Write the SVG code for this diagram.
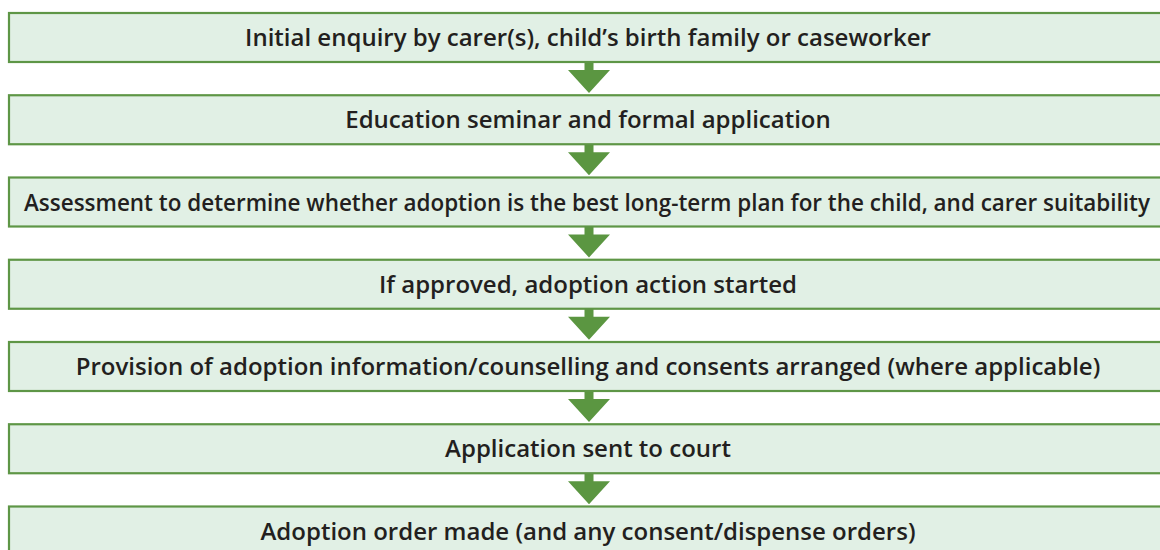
<svg xmlns="http://www.w3.org/2000/svg" width="1160" height="550" viewBox="0 0 1160 550">
<style>
.box{fill:#e1f0e5;stroke:#5e9646;stroke-width:2.2}
.lbl{font-family:"Open Sans","Noto Sans","Liberation Sans",sans-serif;font-size:24px;font-weight:600;fill:#231f20;text-anchor:middle}
.arr{fill:#5b9641}
</style>
<rect width="1160" height="550" fill="#ffffff"/>
<g id="connectors">
<path class="arr" d="M584.5 62 H593.5 V70 H610 L589 93 L568 70 H584.5 Z"/>
<path class="arr" d="M584.5 144.25 H593.5 V152.25 H610 L589 175.25 L568 152.25 H584.5 Z"/>
<path class="arr" d="M584.5 226.5 H593.5 V234.5 H610 L589 257.5 L568 234.5 H584.5 Z"/>
<path class="arr" d="M584.5 308.75 H593.5 V316.75 H610 L589 339.75 L568 316.75 H584.5 Z"/>
<path class="arr" d="M584.5 391 H593.5 V399 H610 L589 422 L568 399 H584.5 Z"/>
<path class="arr" d="M584.5 473.25 H593.5 V481.25 H610 L589 504.25 L568 481.25 H584.5 Z"/>
</g>
<g id="n1"><rect class="box" x="9" y="13" width="1160" height="49"/><text class="lbl" x="588" y="46">Initial enquiry by carer(s), child’s birth family or caseworker</text></g>
<g id="n2"><rect class="box" x="9" y="95.25" width="1160" height="49"/><text class="lbl" x="588" y="128.25">Education seminar and formal application</text></g>
<g id="n3"><rect class="box" x="9" y="177.5" width="1160" height="49"/><text class="lbl" x="587" y="210.5" textLength="1126" lengthAdjust="spacingAndGlyphs">Assessment to determine whether adoption is the best long-term plan for the child, and carer suitability</text></g>
<g id="n4"><rect class="box" x="9" y="259.75" width="1160" height="49"/><text class="lbl" x="588" y="292.75">If approved, adoption action started</text></g>
<g id="n5"><rect class="box" x="9" y="342" width="1160" height="49"/><text class="lbl" x="588" y="375">Provision of adoption information/counselling and consents arranged (where applicable)</text></g>
<g id="n6"><rect class="box" x="9" y="424.25" width="1160" height="49"/><text class="lbl" x="588" y="457.25">Application sent to court</text></g>
<g id="n7"><rect class="box" x="9" y="506.5" width="1160" height="49"/><text class="lbl" x="588" y="539.5">Adoption order made (and any consent/dispense orders)</text></g>
</svg>
